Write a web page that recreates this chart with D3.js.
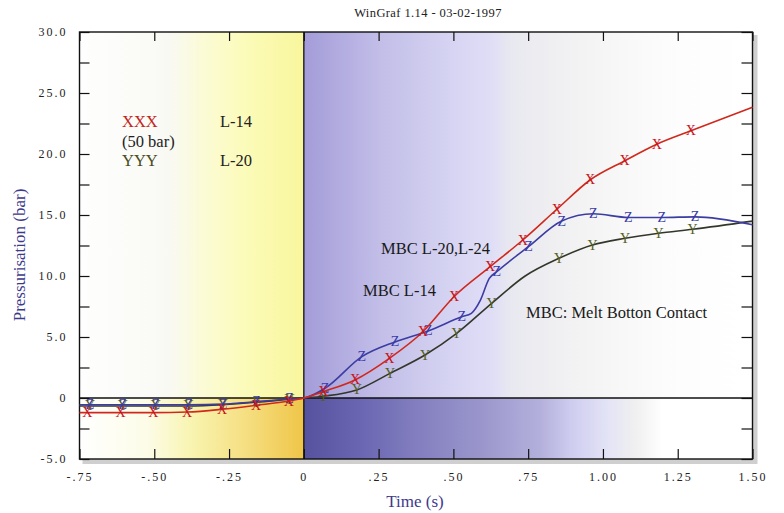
<!DOCTYPE html>
<html>
<head>
<meta charset="utf-8">
<script src="https://cdn.jsdelivr.net/npm/d3@7"></script>
<style>
  body { margin: 0; background: #ffffff; }
  svg { display: block; }
  text { font-family: "Liberation Serif", "DejaVu Serif", serif; }
</style>
</head>
<body>
<svg id="chart" width="784" height="513"></svg>
<script>
// ---- data ----
const chartTitle = "WinGraf 1.14 - 03-02-1997";
const xTitle = "Time (s)";
const yTitle = "Pressurisation (bar)";

const xTickValues = [-0.75, -0.5, -0.25, 0, 0.25, 0.5, 0.75, 1.0, 1.25, 1.5];
const xTickLabels = ["-.75", "-.50", "-.25", "0", ".25", ".50", ".75", "1.00", "1.25", "1.50"];
const yTickValues = [-5, -2.5, 0, 2.5, 5, 7.5, 10, 12.5, 15, 17.5, 20, 22.5, 25, 27.5, 30];
const yLabelValues = [-5, 0, 5, 10, 15, 20, 25, 30];
const yLabelTexts = ["-5.0", "0", "5.0", "10.0", "15.0", "20.0", "25.0", "30.0"];

// XXX (L-14), marked with "X"
const redTimes  = [-0.75, -0.724, -0.613, -0.503, -0.39, -0.273, -0.16, -0.05, 0, 0.065, 0.171, 0.286, 0.398, 0.502, 0.623, 0.732, 0.846, 0.957, 1.072, 1.18, 1.294, 1.5];
const redValues = [-1.2, -1.2, -1.2, -1.2, -1.15, -0.92, -0.6, -0.25, 0, 0.52, 1.48, 3.25, 5.43, 8.3, 10.76, 12.95, 15.47, 17.87, 19.43, 20.8, 21.9, 23.83];
const redMarked = [0, 1, 1, 1, 1, 1, 1, 1, 0, 1, 1, 1, 1, 1, 1, 1, 1, 1, 1, 1, 1, 0];

// MBC L-20,L-24, marked with "Z"
const blueTimes  = [-0.75, -0.715, -0.605, -0.495, -0.385, -0.27, -0.158, -0.048, 0, 0.071, 0.194, 0.305, 0.416, 0.528, 0.56, 0.59, 0.62, 0.645, 0.751, 0.862, 0.968, 1.085, 1.197, 1.308, 1.5];
const blueValues = [-0.55, -0.55, -0.55, -0.55, -0.55, -0.5, -0.3, -0.08, 0, 0.8, 3.39, 4.6, 5.5, 6.66, 6.94, 8.0, 9.8, 10.35, 12.4, 14.5, 15.1, 14.8, 14.8, 14.85, 14.2];
const blueMarked = [0, 1, 1, 1, 1, 1, 1, 1, 0, 1, 1, 1, 1, 1, 0, 0, 0, 1, 1, 1, 1, 1, 1, 1, 0];

// YYY (L-20), marked with "Y"
const greenTimes  = [-0.75, -0.715, -0.605, -0.495, -0.385, -0.27, -0.158, -0.048, 0, 0.065, 0.177, 0.288, 0.405, 0.511, 0.628, 0.74, 0.853, 0.965, 1.074, 1.186, 1.3, 1.5];
const greenValues = [-0.65, -0.65, -0.65, -0.65, -0.65, -0.55, -0.35, -0.1, 0, 0.15, 0.66, 2.02, 3.52, 5.3, 7.76, 10.0, 11.45, 12.54, 13.09, 13.5, 13.83, 14.5];
const greenMarked = [0, 1, 1, 1, 1, 1, 1, 1, 0, 1, 1, 1, 1, 1, 1, 0, 1, 1, 1, 1, 1, 0];

// ---- layout ----
const svg = d3.select("#chart");
const x = d3.scaleLinear().domain([-0.75, 1.5]).range([79.5, 752.5]);
const y = d3.scaleLinear().domain([-5, 30]).range([459, 32]);
const [xL, xR] = x.range();
const [yB, yT] = y.range();
const x0 = x(0), y0 = y(0);

const defs = svg.append("defs");
function gradient(id, stops) {
  const g = defs.append("linearGradient").attr("id", id)
    .attr("x1", 0).attr("x2", 1).attr("y1", 0).attr("y2", 0);
  stops.forEach(([o, c]) => g.append("stop").attr("offset", o).attr("stop-color", c));
}
gradient("gUL", [[0, "#fefefe"], [0.4, "#f9f9f4"], [0.55, "#fbfbd6"], [0.75, "#fbfbb8"], [1, "#f8f69c"]]);
gradient("gLL", [[0, "#ffffff"], [0.3, "#fcfce8"], [0.5, "#f8f4b0"], [0.75, "#f5de80"], [1, "#efc548"]]);
gradient("gUR", [[0, "#a39cd8"], [0.06, "#aea8de"], [0.17, "#c2bee8"], [0.33, "#d6d4f2"], [0.42, "#e0def6"], [0.46, "#e8e8f0"], [0.57, "#f0f0f2"], [0.71, "#f8f8f8"], [0.84, "#fdfdfd"], [1, "#ffffff"]]);
gradient("gLR", [[0, "#56529e"], [0.127, "#6a66b2"], [0.26, "#8480c0"], [0.394, "#9a96cc"], [0.528, "#b4b0dc"], [0.6, "#d0cef0"], [0.68, "#e4e4f6"], [0.74, "#f0f0f0"], [0.8, "#ffffff"], [1, "#ffffff"]]);

// frame shadow
svg.append("rect").attr("x", xL + 3).attr("y", yT + 3).attr("width", xR - xL + 2).attr("height", yB - yT + 2)
  .attr("fill", "#cfcfcf");

// shaded regions
const bg = svg.append("g");
bg.append("rect").attr("x", xL).attr("y", yT).attr("width", x0 - xL).attr("height", y0 - yT).attr("fill", "url(#gUL)");
bg.append("rect").attr("x", xL).attr("y", y0).attr("width", x0 - xL).attr("height", yB - y0).attr("fill", "url(#gLL)");
bg.append("rect").attr("x", x0).attr("y", yT).attr("width", xR - x0).attr("height", y0 - yT).attr("fill", "url(#gUR)");
bg.append("rect").attr("x", x0).attr("y", y0).attr("width", xR - x0).attr("height", yB - y0).attr("fill", "url(#gLR)");

// axes (ticks inside the frame)
const yLabel = v => { const i = yLabelValues.indexOf(v); return i >= 0 ? yLabelTexts[i] : ""; };
const xLabel = v => xTickLabels[xTickValues.indexOf(v)];

const axisStyle = g => {
  g.select(".domain").remove();
  g.selectAll(".tick line").attr("stroke", "#111").attr("stroke-width", 1.2);
  g.selectAll(".tick text").attr("fill", "#222").style("font-size", "12px").style("letter-spacing", "2px")
    .style("font-family", "'Liberation Serif', serif");
};

svg.append("g").attr("transform", `translate(${xL},0)`)
  .call(d3.axisLeft(y).tickValues(yTickValues).tickSize(-10).tickPadding(12).tickFormat(yLabel))
  .call(axisStyle);
svg.append("g").attr("transform", `translate(${xR},0)`)
  .call(d3.axisRight(y).tickValues(yTickValues).tickSize(-11).tickFormat(""))
  .call(axisStyle);
svg.append("g").attr("transform", `translate(0,${yB})`)
  .call(d3.axisBottom(x).tickValues(xTickValues).tickSize(-10).tickPadding(13).tickFormat(xLabel))
  .call(axisStyle);
svg.append("g").attr("transform", `translate(0,${yT})`)
  .call(d3.axisTop(x).tickValues(xTickValues).tickSize(-9).tickFormat(""))
  .call(axisStyle);

// zero lines and frame
svg.append("line").attr("x1", xL).attr("x2", xR).attr("y1", y0).attr("y2", y0).attr("stroke", "#111").attr("stroke-width", 1.3);
svg.append("line").attr("x1", x0).attr("x2", x0).attr("y1", yT).attr("y2", yB).attr("stroke", "#111").attr("stroke-width", 1.3);
svg.append("rect").attr("x", xL).attr("y", yT).attr("width", xR - xL).attr("height", yB - yT)
  .attr("fill", "none").attr("stroke", "#111").attr("stroke-width", 1.4);

// series
const series = [
  { times: greenTimes, values: greenValues, marked: greenMarked, line: "#33372a", mark: "#555e1e", glyph: "Y" },
  { times: blueTimes,  values: blueValues,  marked: blueMarked,  line: "#3c3ca2", mark: "#3a3aaa", glyph: "Z" },
  { times: redTimes,   values: redValues,   marked: redMarked,   line: "#d0281c", mark: "#c8141a", glyph: "X" }
];
const lineGen = d3.line().x(d => x(d.t)).y(d => y(d.v)).curve(d3.curveMonotoneX);

series.forEach(s => {
  const pts = s.times.map((t, i) => ({ t, v: s.values[i], m: s.marked[i] }));
  svg.append("path").datum(pts).attr("d", lineGen)
    .attr("fill", "none").attr("stroke", s.line).attr("stroke-width", 1.6);
  svg.append("g").selectAll("text").data(pts.filter(p => p.m)).join("text")
    .attr("x", d => x(d.t)).attr("y", d => y(d.v))
    .attr("text-anchor", "middle").attr("dominant-baseline", "central")
    .attr("fill", s.mark).style("font-size", "14px")
    .text(s.glyph);
});

// titles
svg.append("text").attr("x", 428).attr("y", 17).attr("text-anchor", "middle")
  .attr("fill", "#222").style("font-size", "12.5px").style("letter-spacing", "0.4px").text(chartTitle);
svg.append("text").attr("transform", "translate(19,255) rotate(-90)").attr("text-anchor", "middle")
  .attr("dominant-baseline", "central").attr("fill", "#3d3a8c").style("font-size", "17px").text(yTitle);
svg.append("text").attr("x", 415).attr("y", 501).attr("text-anchor", "middle")
  .attr("dominant-baseline", "central").attr("fill", "#3d3a8c").style("font-size", "17px").text(xTitle);

// legend
const legend = [
  { x: 122, y: 121, text: "XXX", fill: "#c2261c" },
  { x: 122, y: 141, text: "(50 bar)", fill: "#222" },
  { x: 122, y: 160, text: "YYY", fill: "#4a4c1e" },
  { x: 220, y: 121, text: "L-14", fill: "#222" },
  { x: 220, y: 160, text: "L-20", fill: "#222" }
];
// annotations
const notes = [
  { x: 381, y: 248, text: "MBC L-20,L-24", fill: "#1a1a1a" },
  { x: 363, y: 290, text: "MBC L-14", fill: "#1a1a1a" },
  { x: 526, y: 312, text: "MBC: Melt Botton Contact", fill: "#1a1a1a" }
];
svg.append("g").selectAll("text").data(legend.concat(notes)).join("text")
  .attr("x", d => d.x).attr("y", d => d.y).attr("dominant-baseline", "central")
  .attr("fill", d => d.fill).style("font-size", "16.5px").text(d => d.text);
</script>
</body>
</html>
